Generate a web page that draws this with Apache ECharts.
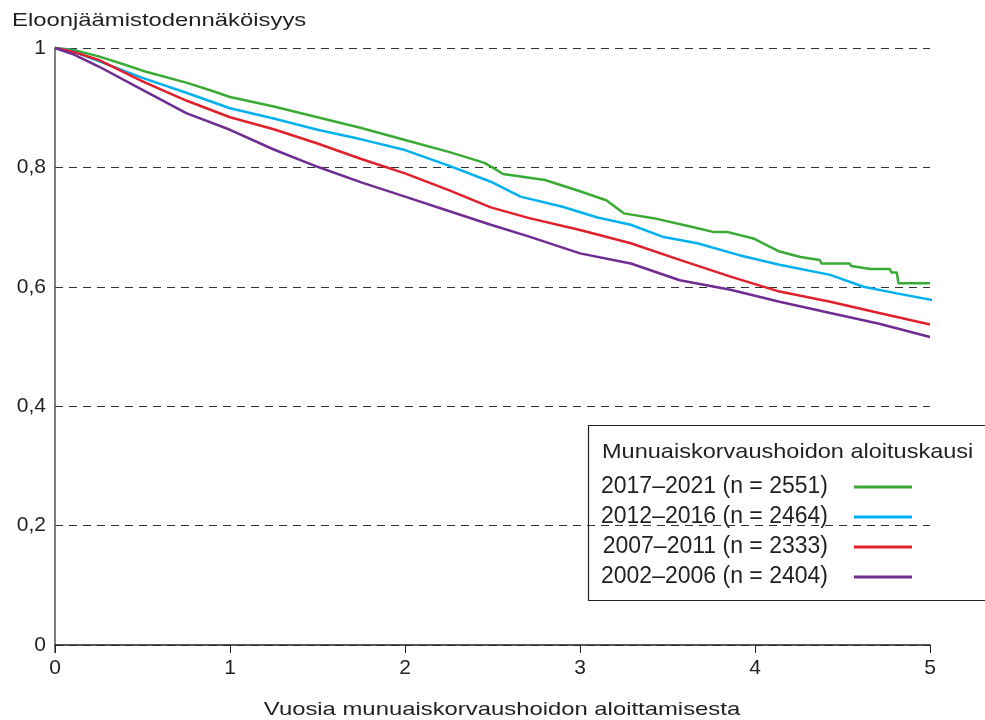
<!DOCTYPE html>
<html>
<head>
<meta charset="utf-8">
<script src="https://cdn.jsdelivr.net/npm/echarts@6/dist/echarts.min.js"></script>
<style>
html,body{margin:0;padding:0;background:#fff;}
#main{width:985px;height:720px;}
</style>
</head>
<body>
<div id="main"></div>
<script>
const seriesNames = ['2017–2021 (n = 2551)', '2012–2016 (n = 2464)', '2007–2011 (n = 2333)', '2002–2006 (n = 2404)'];
const yTicks = [0, 0.2, 0.4, 0.6, 0.8, 1];
const xTicks = [0, 1, 2, 3, 4, 5];
const yTitle = 'Eloonjäämistodennäköisyys';
const xTitle = 'Vuosia munuaiskorvaushoidon aloittamisesta';
const legendTitle = 'Munuaiskorvaushoidon aloituskausi';

const green = [[0,1],[0.1,0.997],[0.25,0.986],[0.4,0.972],[0.5,0.962],[0.75,0.942],[0.9,0.928],[1,0.918],[1.25,0.902],[1.5,0.884],[1.75,0.866],[2,0.846],[2.25,0.826],[2.45,0.808],[2.5,0.800],[2.56,0.789],[2.8,0.779],[3.0,0.760],[3.15,0.745],[3.25,0.723],[3.42,0.715],[3.63,0.701],[3.76,0.692],[3.84,0.692],[3.99,0.681],[4.14,0.659],[4.26,0.650],[4.37,0.645],[4.38,0.639],[4.54,0.639],[4.55,0.635],[4.66,0.630],[4.77,0.630],[4.78,0.624],[4.81,0.624],[4.82,0.606],[5.0,0.606]];
const cyan = [[0,1],[0.1,0.995],[0.25,0.978],[0.5,0.950],[0.75,0.925],[1,0.899],[1.25,0.882],[1.5,0.863],[1.75,0.847],[2,0.829],[2.25,0.803],[2.49,0.776],[2.66,0.751],[2.9,0.734],[3.1,0.716],[3.29,0.704],[3.47,0.684],[3.67,0.673],[3.91,0.653],[4.14,0.637],[4.43,0.620],[4.62,0.600],[4.81,0.589],[5.06,0.575]];
const red = [[0,1],[0.1,0.994],[0.25,0.980],[0.5,0.944],[0.75,0.912],[1,0.884],[1.25,0.864],[1.5,0.840],[1.75,0.814],[2,0.790],[2.25,0.762],[2.49,0.733],[2.71,0.715],[3.0,0.695],[3.29,0.673],[3.57,0.645],[3.86,0.617],[4.14,0.592],[4.43,0.575],[4.71,0.556],[5.0,0.537]];
const purple = [[0,1],[0.1,0.990],[0.25,0.969],[0.5,0.930],[0.75,0.891],[1,0.863],[1.25,0.830],[1.5,0.801],[1.75,0.775],[2,0.751],[2.25,0.727],[2.49,0.704],[2.71,0.684],[3.0,0.656],[3.29,0.639],[3.57,0.611],[3.86,0.595],[4.14,0.575],[4.43,0.556],[4.71,0.538],[5.0,0.516]];

const colors = ['#3aaa35', '#00b0f0', '#e0202a', '#6f2c91'];
const datas = [green, cyan, red, purple];
const FONT = '"Liberation Sans", Arial, sans-serif';
const TXT = '#231f20';
const SX = 1.255;

const chart = echarts.init(document.getElementById('main'));
chart.setOption({
  animation: false,
  backgroundColor: '#fff',
  grid: {left: 55, right: 55, top: 48, bottom: 75, containLabel: false},
  xAxis: {
    type: 'value', min: 0, max: 5, interval: 1,
    axisLine: {show: true, lineStyle: {color: '#222', width: 1.5}},
    axisTick: {show: true, length: 8, lineStyle: {color: '#222', width: 1}},
    axisLabel: {color: TXT, fontSize: 21, fontFamily: FONT, margin: 13,
      formatter: v => xTicks.includes(v) ? String(v) : ''},
    splitLine: {show: false}
  },
  yAxis: {
    type: 'value', min: 0, max: 1, interval: 0.2,
    axisLine: {show: true, onZero: false, lineStyle: {color: '#555', width: 1.5}},
    axisTick: {show: false},
    axisLabel: {color: TXT, fontSize: 21, fontFamily: FONT, margin: 9,
      formatter: v => yTicks.some(t => Math.abs(t - v) < 1e-9) ? String(Math.round(v*10)/10).replace('.', ',') : ''},
    splitLine: {show: true, lineStyle: {color: '#333', type: [8, 6], width: 1}}
  },
  legend: {
    orient: 'vertical', left: 596, top: 470, align: 'right', z: 10,
    itemWidth: 58, itemHeight: 3, itemGap: 6, icon: 'rect',
    textStyle: {color: TXT, fontSize: 23, fontFamily: FONT, lineHeight: 24, padding: [0, 21, 0, 0]},
    data: seriesNames
  },
  graphic: [
    {type: 'text', x: 12, y: 21, scaleX: SX, style: {text: yTitle, fill: TXT, font: '19px ' + FONT, verticalAlign: 'middle'}},
    {type: 'text', x: 502, y: 710, scaleX: SX, style: {text: xTitle, fill: TXT, font: '19px ' + FONT, align: 'center', verticalAlign: 'middle'}},
    {type: 'line', shape: {x1: 55, y1: 645, x2: 55, y2: 653}, style: {stroke: '#555', lineWidth: 1.5}},
    {type: 'rect', shape: {x: 588.5, y: 425.5, width: 410, height: 175}, style: {fill: 'none', stroke: '#222', lineWidth: 1.2}, z: 5},
    {type: 'text', x: 602, y: 452, scaleX: 1.12, z: 6, style: {text: legendTitle, fill: TXT, font: '21px ' + FONT, verticalAlign: 'middle'}}
  ],
  series: datas.map((d, i) => ({
    name: seriesNames[i], type: 'line', data: d, showSymbol: false, symbol: 'none',
    clip: false, z: 3,
    lineStyle: {color: colors[i], width: 2.5},
    itemStyle: {color: colors[i]}
  }))
});
</script>
</body>
</html>
